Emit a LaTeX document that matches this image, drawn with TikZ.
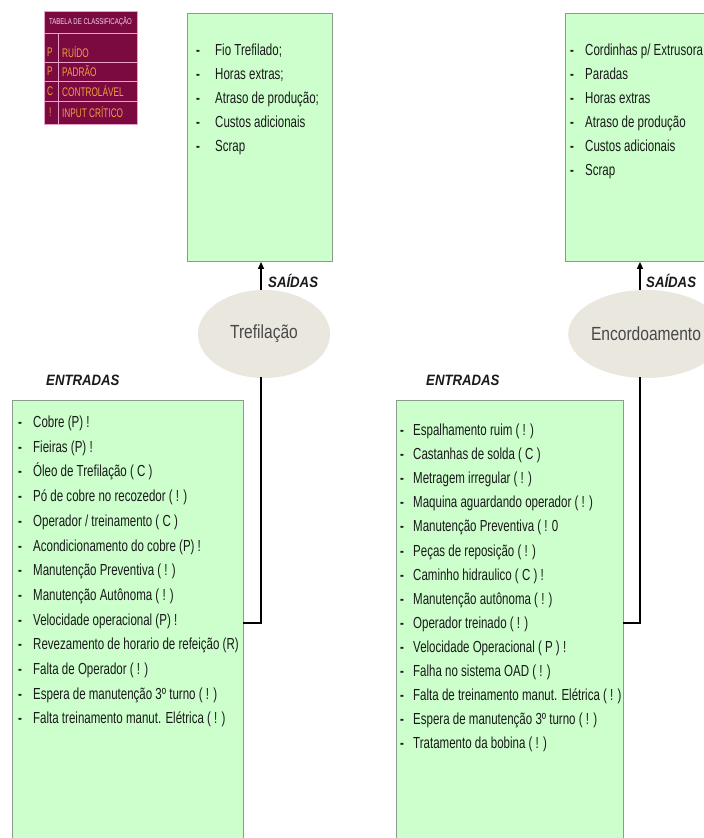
\documentclass[tikz,border=0pt]{standalone}
\usepackage{fontspec}
\setmainfont{Liberation Sans}
\newfontfamily\itemfont[FakeStretch=0.72]{Liberation Sans}
\newfontfamily\labelfont[FakeStretch=0.88]{Liberation Sans}
\newfontfamily\procfont[FakeStretch=0.82]{Liberation Sans}
\newfontfamily\legfont[FakeStretch=0.66]{Liberation Sans}
\newfontfamily\legheadfont[FakeStretch=0.72]{Liberation Sans}
\usetikzlibrary{shapes.geometric,arrows.meta}

\definecolor{boxgreen}{HTML}{CCFFCC}
\definecolor{boxedge}{HTML}{8C9C8C}
\definecolor{procfill}{HTML}{EAE7DF}
\definecolor{legfill}{HTML}{7A0A40}
\definecolor{legline}{HTML}{E8A0C8}
\definecolor{legtext}{HTML}{F0A040}
\definecolor{leghead}{HTML}{F4D8E6}
\definecolor{ink}{HTML}{1A1A1A}

\tikzset{
  listbox/.style={draw=boxedge, fill=boxgreen, line width=0.9pt, inner sep=0pt, anchor=north west},
  proc/.style={ellipse, fill=procfill, draw=none, inner sep=0pt,
    minimum width=132pt, minimum height=88pt, text=ink!80,
    font=\procfont\fontsize{19}{22}\selectfont},
  itemtxt/.style={font=\itemfont\fontsize{16}{18}\selectfont, text=ink, inner sep=0pt, anchor=base west},
  itemdash/.style={font=\itemfont\bfseries\fontsize{16}{18}\selectfont, text=ink, inner sep=0pt, anchor=base},
  flowlabel/.style={font=\labelfont\bfseries\itshape\fontsize{15}{18}\selectfont, text=ink, inner sep=0pt, anchor=west},
  outarrow/.style={draw=black, line width=1.3pt, -{Triangle[length=7pt,width=6pt]}},
  link/.style={draw=black, line width=2.6pt, line cap=rect},
  legbox/.style={fill=legfill, draw=legline, line width=0.6pt, inner sep=0pt, anchor=north west},
  legrow/.style={font=\legfont\fontsize{12.5}{14}\selectfont, text=legtext, inner sep=0pt, anchor=west},
  leghead/.style={font=\legheadfont\fontsize{8.4}{10}\selectfont, text=leghead, inner sep=0pt}
}

\begin{document}
\begin{tikzpicture}[x=1pt,y=-1pt]
\useasboundingbox (0,0) rectangle (704,838);
\fill[white] (0,0) rectangle (704,838);

% ---------- classification legend ----------
\node[legbox, minimum width=93pt, minimum height=113pt] (leg) at (44,11) {};
\draw[legline, line width=0.6pt] (44,33) -- (137,33);
\draw[legline, line width=0.6pt] (44,62) -- (137,62);
\draw[legline, line width=0.6pt] (44,81) -- (137,81);
\draw[legline, line width=0.6pt] (44,101) -- (137,101);
\draw[legline, line width=0.6pt] (58,33) -- (58,124);
\node[leghead] (legt) at (90.5,22) {TABELA DE CLASSIFICAÇÃO};
\node[legrow] (k1) at (47,52) {P};
\node[legrow] (v1) at (62,52) {RUÍDO};
\node[legrow] (k2) at (47,71.5) {P};
\node[legrow] (v2) at (62,71.5) {PADRÃO};
\node[legrow] (k3) at (47,91) {C};
\node[legrow] (v3) at (62,91) {CONTROLÁVEL};
\node[legrow] (k4) at (49,112) {!};
\node[legrow] (v4) at (62,112) {INPUT CRÍTICO};

% ---------- Trefilação ----------
\node[listbox, minimum width=145pt, minimum height=248pt] (outL) at (187,13) {};
\foreach \t [count=\i] in {Fio Trefilado;, Horas extras;, Atraso de produção;, Custos adicionais, Scrap}{
  \node[itemdash] (tld\i) at (198, {55.5+24*(\i-1)}) {-};
  \node[itemtxt] (tl\i) at (215, {55.5+24*(\i-1)}) {\t};
}
\node[proc] (tref) at (264,334) {Trefilação};
\coordinate (xL) at (261,0);
\coordinate (yL) at (0,623);
\node[flowlabel] (saiL) at (268,281) {SAÍDAS};
\node[flowlabel] (entL) at (46,380) {ENTRADAS};
\node[listbox, minimum width=231pt, minimum height=445pt] (inL) at (12,400) {};
\foreach \t [count=\i] in {Cobre (P) !, Fieiras (P) !, Óleo de Trefilação ( C ),
  Pó de cobre no recozedor ( ! ), Operador / treinamento ( C ),
  Acondicionamento do cobre (P) !, Manutenção Preventiva ( ! ),
  Manutenção Autônoma ( ! ), Velocidade operacional (P) !,
  Revezamento de horario de refeição (R), Falta de Operador ( ! ),
  Espera de manutenção 3º turno ( ! ), Falta treinamento manut. Elétrica ( ! )}{
  \node[itemdash] (bld\i) at (20, {427.5+24.7*(\i-1)}) {-};
  \node[itemtxt] (bl\i) at (33, {427.5+24.7*(\i-1)}) {\t};
}
\draw[outarrow] (tref.north -| xL) -- (outL.south -| xL);
\draw[link] (tref.south -| xL) |- (inL.east |- yL);

% ---------- Encordoamento ----------
\node[listbox, minimum width=145pt, minimum height=248pt] (outR) at (565,13) {};
\foreach \t [count=\i] in {Cordinhas p/ Extrusora, Paradas, Horas extras, Atraso de produção, Custos adicionais, Scrap}{
  \node[itemdash] (trd\i) at (572, {55.5+24*(\i-1)}) {-};
  \node[itemtxt] (tr\i) at (585, {55.5+24*(\i-1)}) {\t};
}
\node[proc] (enco) at (646,334) {Encordoamento};
\coordinate (xR) at (640,0);
\node[flowlabel] (saiR) at (646,281) {SAÍDAS};
\node[flowlabel] (entR) at (426,380) {ENTRADAS};
\node[listbox, minimum width=227pt, minimum height=445pt] (inR) at (396,400) {};
\foreach \t [count=\i] in {Espalhamento ruim ( ! ), Castanhas de solda ( C ),
  Metragem irregular ( ! ), Maquina aguardando operador ( ! ),
  Manutenção Preventiva ( ! 0, Peças de reposição ( ! ),
  Caminho hidraulico ( C ) !, Manutenção autônoma ( ! ),
  Operador treinado ( ! ), Velocidade Operacional ( P ) !,
  Falha no sistema OAD ( ! ), Falta de treinamento manut. Elétrica ( ! ),
  Espera de manutenção 3º turno ( ! ), Tratamento da bobina ( ! )}{
  \node[itemdash] (brd\i) at (402, {435.5+24.1*(\i-1)}) {-};
  \node[itemtxt] (br\i) at (413, {435.5+24.1*(\i-1)}) {\t};
}
\draw[outarrow] (enco.north -| xR) -- (outR.south -| xR);
\draw[link] (enco.south -| xR) |- (inR.east |- yL);
\end{tikzpicture}
\end{document}
